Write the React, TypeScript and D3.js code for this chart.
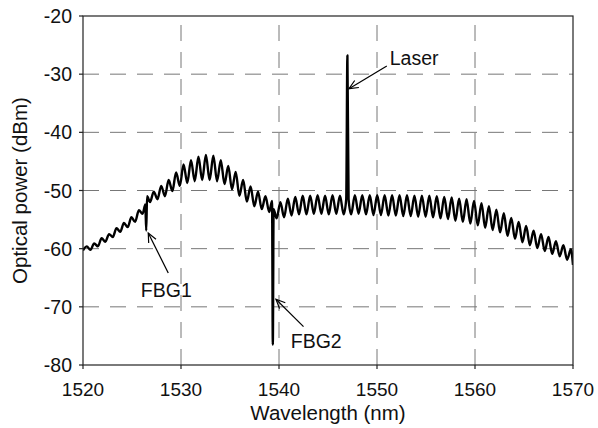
import React from "react";
import * as d3 from "d3";

// Spectrum: extrema of the ripple, plus the FBG dips and the laser line
const wavelength = [
  1520.00, 1520.38, 1520.76, 1521.14, 1521.52, 1521.90, 1522.28, 1522.66, 1523.04, 1523.42,
  1523.80, 1524.18, 1524.56, 1524.94, 1525.32, 1525.70, 1526.08, 1526.36, 1526.45, 1526.54,
  1526.84, 1527.22, 1527.60, 1527.98, 1528.36, 1528.74, 1529.12, 1529.50, 1529.88, 1530.26,
  1530.64, 1531.02, 1531.40, 1531.78, 1532.16, 1532.54, 1532.92, 1533.30, 1533.68, 1534.06,
  1534.44, 1534.82, 1535.20, 1535.58, 1535.96, 1536.34, 1536.72, 1537.10, 1537.48, 1537.86,
  1538.24, 1538.62, 1539.00, 1539.29, 1539.37, 1539.45, 1539.76, 1540.14, 1540.52, 1540.90,
  1541.28, 1541.66, 1542.04, 1542.42, 1542.80, 1543.18, 1543.56, 1543.94, 1544.32, 1544.70,
  1545.08, 1545.46, 1545.84, 1546.22, 1546.60, 1546.86, 1546.98, 1547.10, 1547.36, 1547.74,
  1548.12, 1548.50, 1548.88, 1549.26, 1549.64, 1550.02, 1550.40, 1550.78, 1551.16, 1551.54,
  1551.92, 1552.30, 1552.68, 1553.06, 1553.44, 1553.82, 1554.20, 1554.58, 1554.96, 1555.34,
  1555.72, 1556.10, 1556.48, 1556.86, 1557.24, 1557.62, 1558.00, 1558.38, 1558.76, 1559.14,
  1559.52, 1559.90, 1560.28, 1560.66, 1561.04, 1561.42, 1561.80, 1562.18, 1562.56, 1562.94,
  1563.32, 1563.70, 1564.08, 1564.46, 1564.84, 1565.22, 1565.60, 1565.98, 1566.36, 1566.74,
  1567.12, 1567.50, 1567.88, 1568.26, 1568.64, 1569.02, 1569.40, 1569.78, 1570.00,
];
const power = [
  -60.3, -59.6, -60.2, -59.1, -59.6, -58.2, -58.8, -57.5, -58.0, -56.5,
  -57.1, -55.6, -56.3, -54.6, -55.4, -53.4, -54.0, -52.4, -56.9, -51.0,
  -52.0, -50.2, -51.5, -49.2, -51.0, -48.2, -50.1, -46.9, -49.2, -45.5,
  -48.7, -44.8, -48.4, -44.2, -48.2, -43.9, -48.2, -44.0, -48.4, -44.8,
  -48.9, -45.8, -49.8, -46.8, -50.9, -48.2, -51.9, -49.3, -52.7, -50.2,
  -53.2, -51.0, -53.7, -51.8, -76.5, -53.2, -54.8, -52.0, -54.6, -51.4,
  -54.3, -51.1, -54.1, -50.9, -54.1, -50.9, -54.0, -50.8, -54.0, -50.9,
  -54.1, -50.8, -54.0, -50.9, -54.1, -51.5, -26.8, -51.5, -54.1, -50.8,
  -54.0, -50.8, -54.1, -50.8, -54.2, -50.8, -54.2, -50.8, -54.3, -50.8,
  -54.3, -50.8, -54.4, -50.8, -54.4, -50.9, -54.5, -50.9, -54.5, -50.9,
  -54.6, -51.0, -54.8, -51.1, -54.9, -51.2, -55.2, -51.4, -55.4, -51.5,
  -55.7, -51.8, -56.0, -52.2, -56.4, -52.7, -56.8, -53.3, -57.2, -53.9,
  -57.8, -54.7, -58.3, -55.4, -58.9, -56.1, -59.4, -56.9, -59.9, -57.5,
  -60.4, -58.0, -60.9, -58.7, -61.3, -59.4, -61.9, -60.1, -62.8,
];

const xTicks = [1520, 1530, 1540, 1550, 1560, 1570];
const yTicks = [-80, -70, -60, -50, -40, -30, -20];

// annotations: label, text anchor point, arrow tail, arrow tip (data units)
const annLabels = ["FBG1", "FBG2", "Laser"];
const annTextWl = [1525.9, 1541.2, 1551.3];
const annTextDb = [-68.3, -77.0, -28.4];
const annTailWl = [1528.7, 1542.5, 1551.0];
const annTailDb = [-64.2, -73.4, -28.6];
const annTipWl = [1526.66, 1539.69, 1547.14];
const annTipDb = [-57.3, -68.7, -32.5];

const W = 598;
const H = 428;
const M = { left: 83, right: 25, top: 16, bottom: 63 };
const FONT = "'Liberation Sans', Arial, Helvetica, sans-serif";

export default function App() {
  const x = d3.scaleLinear().domain([1520, 1570]).range([M.left, W - M.right]);
  const y = d3.scaleLinear().domain([-80, -20]).range([H - M.bottom, M.top]);
  const pts: [number, number][] = wavelength.map((w, i) => [w, power[i]]);
  const line = d3
    .line<[number, number]>()
    .x((d) => x(d[0]))
    .y((d) => y(d[1]))
    .curve(d3.curveMonotoneX);
  const x0 = x.range()[0], x1 = x.range()[1];
  const y0 = y.range()[0], y1 = y.range()[1];

  const arrowHead = (tx: number, ty: number, fx: number, fy: number) => {
    const a = Math.atan2(fy - ty, fx - tx);
    const L = 10, s = 0.42;
    const p1 = [tx + L * Math.cos(a + s), ty + L * Math.sin(a + s)];
    const p2 = [tx + L * Math.cos(a - s), ty + L * Math.sin(a - s)];
    return `M${p1[0]},${p1[1]}L${tx},${ty}L${p2[0]},${p2[1]}`;
  };

  return (
    <svg width={W} height={H} style={{ position: "absolute", left: 0, top: 0, background: "#fff" }} fontFamily={FONT}>
      <rect x={0} y={0} width={W} height={H} fill="#fff" />
      <defs>
        <clipPath id="plot">
          <rect x={x0} y={y1} width={x1 - x0} height={y0 - y1} />
        </clipPath>
      </defs>
      {/* grid */}
      {yTicks.slice(1, -1).map((t) => (
        <line key={"gy" + t} x1={x0} x2={x1} y1={y(t)} y2={y(t)} stroke="#777" strokeWidth={1} strokeDasharray="16,11" />
      ))}
      {xTicks.slice(1, -1).map((t) => (
        <line key={"gx" + t} x1={x(t)} x2={x(t)} y1={y0} y2={y1} stroke="#777" strokeWidth={1} strokeDasharray="16,11" />
      ))}
      {/* curve */}
      <path d={line(pts) || ""} fill="none" stroke="#000" strokeWidth={2.4} strokeLinejoin="round" clipPath="url(#plot)" />
      {/* frame */}
      <rect x={x0} y={y1} width={x1 - x0} height={y0 - y1} fill="none" stroke="#222" strokeWidth={1.2} />
      {/* ticks */}
      {yTicks.map((t) => (
        <g key={"ty" + t}>
          <line x1={x0 - 4} x2={x0} y1={y(t)} y2={y(t)} stroke="#222" strokeWidth={1.2} />
          <text x={x0 - 11} y={y(t)} dy="0.36em" textAnchor="end" fontSize={19.5} fill="#111">
            {t}
          </text>
        </g>
      ))}
      {xTicks.map((t) => (
        <g key={"tx" + t}>
          <line x1={x(t)} x2={x(t)} y1={y0} y2={y0 + 4} stroke="#222" strokeWidth={1.2} />
          <text x={x(t)} y={y0 + 31} textAnchor="middle" fontSize={19} fill="#111">
            {t}
          </text>
        </g>
      ))}
      {/* axis titles */}
      <text x={(x0 + x1) / 2} y={420} textAnchor="middle" fontSize={20.5} fill="#111">
        Wavelength (nm)
      </text>
      <text transform={`translate(27,${(y0 + y1) / 2}) rotate(-90)`} textAnchor="middle" fontSize={20.5} fill="#111">
        Optical power (dBm)
      </text>
      {/* annotations */}
      {annLabels.map((lab, i) => {
        const tx = x(annTipWl[i]), ty = y(annTipDb[i]);
        const fx = x(annTailWl[i]), fy = y(annTailDb[i]);
        return (
          <g key={lab}>
            <line x1={fx} y1={fy} x2={tx} y2={ty} stroke="#000" strokeWidth={1.2} />
            <path d={arrowHead(tx, ty, fx, fy)} fill="none" stroke="#000" strokeWidth={1.2} />
            <text x={x(annTextWl[i])} y={y(annTextDb[i])} fontSize={19.5} fill="#111">
              {lab}
            </text>
          </g>
        );
      })}
    </svg>
  );
}
